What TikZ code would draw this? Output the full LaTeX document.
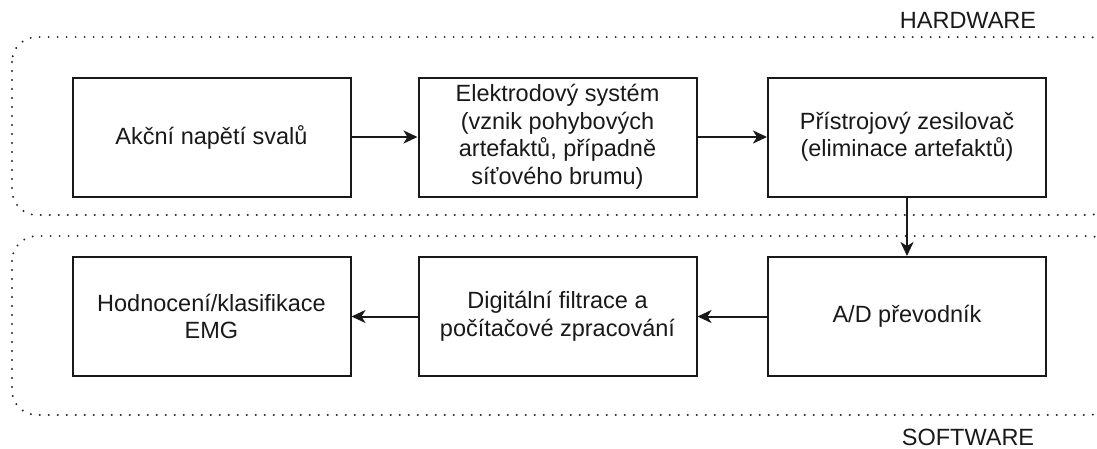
\documentclass[tikz,border=0pt]{standalone}
\usepackage{fontspec}
\setmainfont{Liberation Sans}
\usetikzlibrary{arrows.meta}
\begin{document}
\begin{tikzpicture}[x=1pt,y=-1pt,
  blk/.style={draw=black!90, line width=2pt, minimum width=278pt, minimum height=119pt, inner sep=0pt, align=center, font=\fontsize{23.5}{27.5}\selectfont, text=black!90},
  region/.style={draw=black!85, line width=2.2pt, line cap=round, dash pattern=on 0pt off 9pt, rounded corners=25pt},
  lbl/.style={font=\fontsize{23.5}{27.5}\selectfont, text=black!90, inner sep=0pt},
  conn/.style={draw=black!90, line width=2pt, -{Stealth[length=14pt,width=13pt,inset=4pt]}}]
\useasboundingbox (0,0) rectangle (1097,448);
\begin{scope}
\clip (0,0) rectangle (1097,448);
\draw[region] (12,37) rectangle (1114,215);
\draw[region] (12,236) rectangle (1114,415);
\end{scope}
\node[lbl] (hw) at (968,20) {HARDWARE};
\node[lbl] (sw) at (968,437) {SOFTWARE};
\node[blk] (a) at (211.5,137) {Akční napětí svalů};
\node[blk] (b) at (557.5,137) {Elektrodový systém\\(vznik pohybových\\artefaktů, případně\\síťového brumu)};
\node[blk] (c) at (907,137) {Přístrojový zesilovač\\(eliminace artefaktů)};
\node[blk] (d) at (907,316.5) {A/D převodník};
\node[blk] (e) at (557.5,316.5) {Digitální filtrace a\\počítačové zpracování};
\node[blk] (f) at (211.5,316.5) {Hodnocení/klasifikace\\EMG};
\draw[conn] (a) -- (b);
\draw[conn] (b) -- (c);
\draw[conn] (c) -- (d);
\draw[conn] (d) -- (e);
\draw[conn] (e) -- (f);
\end{tikzpicture}
\end{document}
